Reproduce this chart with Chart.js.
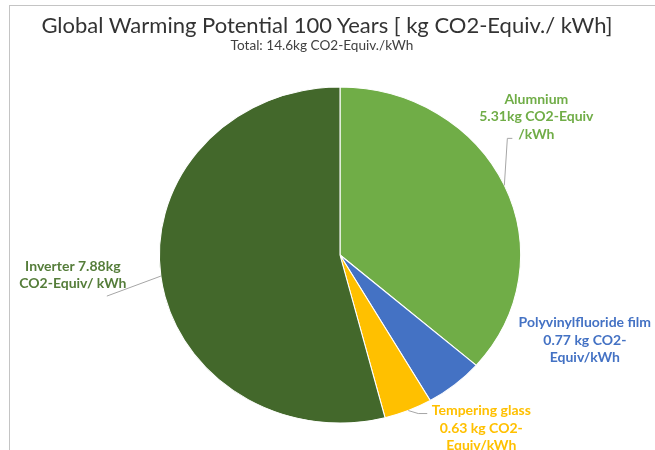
<!DOCTYPE html>
<html>
<head>
<meta charset="utf-8">
<script src="https://cdn.jsdelivr.net/npm/chart.js@4.4.1/dist/chart.umd.min.js"></script>
<style>
    body { margin: 0; background: #fff; font-family: Lato, sans-serif; }
    #frame { position: absolute; left: 9px; top: 5px; border-left: 1px solid #c4c4c4; border-top: 1px solid #c4c4c4; }
    .title { position: absolute; left: 0; width: 654px; top: 12px; line-height: 26px; font-size: 22px; color: #333; text-align: center; white-space: nowrap; }
    .subtitle { position: absolute; left: 0; width: 644px; top: 37px; line-height: 16px; font-size: 13.6px; color: #404040; text-align: center; white-space: nowrap; }
</style>
</head>
<body>
<div id="frame"><canvas id="gwp" width="645" height="444"></canvas></div>
<div class="title">Global Warming Potential 100 Years [ kg CO2-Equiv./ kWh]</div>
<div class="subtitle">Total: 14.6kg CO2-Equiv./kWh</div>
<script>
const materials = ['Alumnium', 'Polyvinylfluoride film', 'Tempering glass', 'Inverter'];
const gwpValues = [5.31, 0.77, 0.63, 7.88];
const labelLines = [
    ['Alumnium', '5.31kg CO2-Equiv', '/kWh'],
    ['Polyvinylfluoride film', '0.77 kg CO2-', 'Equiv/kWh'],
    ['Tempering glass', '0.63 kg CO2-', 'Equiv/kWh'],
    ['Inverter 7.88kg', 'CO2-Equiv/ kWh']
];
const sliceColors = ['#70ad47', '#4472c4', '#ffc000', '#43682b'];
const labelColors = ['#70ad47', '#4472c4', '#ffc000', '#557d3a'];

// excel pie is a bit stretched sideways
const STRETCH = 1.075;

// label placement relative to the slice edge point (text offset, leader points)
const calloutStyle = [
    { text: [32, -86], leader: [[3, -47], [8, -47]] },
    { text: [130, -62], leader: [] },
    { text: [73, 0], leader: [[10, 3], [19, 3]] },
    { text: [-88, -10], leader: [[-54, 20]] }
];

const stretchPlugin = {
    id: 'stretch',
    beforeDatasetsDraw(chart) {
        const a = chart.getDatasetMeta(0).data[0];
        const ctx = chart.ctx;
        ctx.save();
        ctx.translate(a.x, a.y);
        ctx.scale(STRETCH, 1);
        ctx.translate(-a.x, -a.y);
    },
    afterDatasetsDraw(chart) {
        chart.ctx.restore();
    }
};

const calloutPlugin = {
    id: 'callouts',
    afterDraw(chart) {
        const ctx = chart.ctx;
        chart.getDatasetMeta(0).data.forEach((arc, i) => {
            const p = arc.getProps(['x', 'y', 'startAngle', 'endAngle', 'outerRadius'], true);
            const mid = (p.startAngle + p.endAngle) / 2;
            const ex = p.x + Math.cos(mid) * p.outerRadius * STRETCH;
            const ey = p.y + Math.sin(mid) * p.outerRadius;
            const st = calloutStyle[i];
            if (st.leader.length) {
                ctx.save();
                ctx.strokeStyle = '#a6a6a6';
                ctx.lineWidth = 1;
                ctx.beginPath();
                ctx.moveTo(ex, ey);
                st.leader.forEach(pt => ctx.lineTo(ex + pt[0], ey + pt[1]));
                ctx.stroke();
                ctx.restore();
            }
            ctx.save();
            ctx.fillStyle = labelColors[i];
            ctx.font = 'bold 14px Lato';
            ctx.textAlign = 'center';
            ctx.textBaseline = 'middle';
            labelLines[i].forEach((line, k) => {
                ctx.fillText(line, ex + st.text[0], ey + st.text[1] + k * 17.5);
            });
            ctx.restore();
        });
    }
};

new Chart(document.getElementById('gwp'), {
    type: 'pie',
    data: {
        labels: materials,
        datasets: [{
            data: gwpValues,
            backgroundColor: sliceColors,
            borderColor: '#ffffff',
            borderWidth: 1,
            radius: 168
        }]
    },
    options: {
        responsive: false,
        animation: false,
        layout: { padding: { top: 54, left: 15, right: 0, bottom: 0 } },
        plugins: {
            legend: { display: false },
            tooltip: { enabled: false }
        }
    },
    plugins: [stretchPlugin, calloutPlugin]
});
</script>
</body>
</html>
